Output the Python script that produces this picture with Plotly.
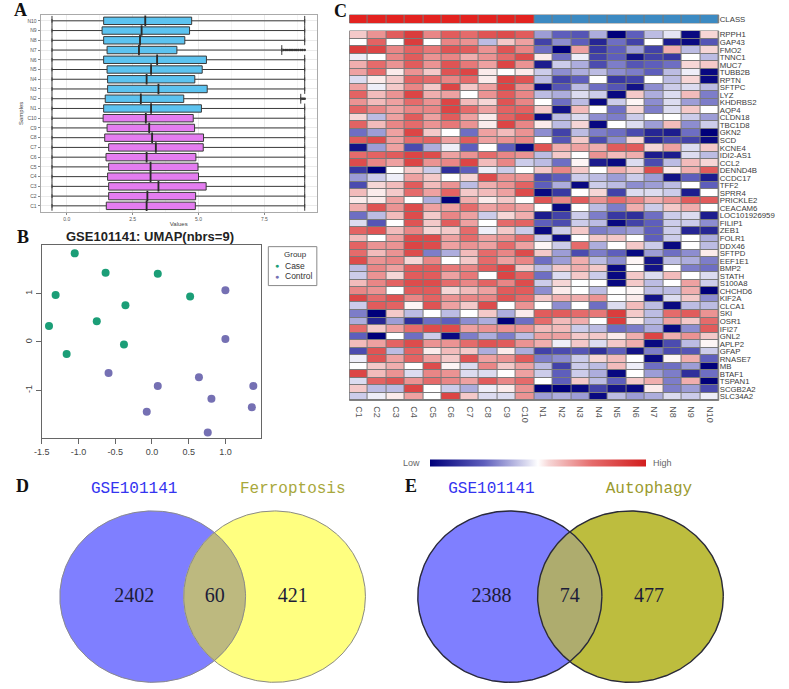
import numpy as np
import plotly.graph_objects as go

W, H = 789, 689

# ---------------- Panel A : boxplots ----------------
samples = ["C1", "C2", "C3", "C4", "C5", "C6", "C7", "C8", "C9", "C10",
           "N1", "N2", "N3", "N4", "N5", "N6", "N7", "N8", "N9", "N10"]
q1 = [1.50, 1.59, 1.59, 1.55, 1.59, 1.49, 1.59, 1.44, 1.53, 1.38,
      1.40, 1.46, 1.55, 1.55, 1.53, 1.40, 1.53, 1.40, 1.34, 1.40]
med = [3.03, 3.06, 3.48, 3.18, 3.18, 3.03, 3.38, 3.24, 3.13, 3.00,
       3.20, 2.81, 3.48, 3.03, 3.20, 3.43, 2.74, 2.78, 2.84, 2.98]
q3 = [4.88, 4.89, 5.29, 5.00, 4.98, 4.90, 5.18, 5.19, 4.85, 4.80,
      5.11, 4.44, 5.33, 4.86, 5.14, 5.30, 4.18, 4.48, 4.66, 4.74]
low_w = [-0.56, -0.56, -0.56, -0.56, -0.56, -0.56, -0.56, -0.56, -0.56, -0.56,
         -0.56, -0.56, -0.56, -0.56, -0.56, -0.56, -0.56, -0.56, -0.56, -0.56]
up_w = [9.03, 9.03, 9.03, 9.03, 9.03, 9.03, 9.03, 9.03, 9.03, 9.03,
        9.03, 8.88, 9.03, 9.03, 9.03, 9.03, 8.16, 9.03, 9.03, 9.03]
out_sample = ["N7", "N7", "N7", "N7", "N7", "N7", "N7", "N7", "N7", "N7", "N7", "N7",
              "N2", "N2", "N2"]
out_value = [8.22, 8.29, 8.36, 8.44, 8.51, 8.58, 8.66, 8.73, 8.80, 8.88, 8.95, 9.03,
             8.93, 8.98, 9.03]

# ---------------- Panel B : UMAP ----------------
case_x = [-1.05, -0.63, 0.08, -1.31, 0.52, -0.36, -0.75, -1.40, -0.38, -1.16]
case_y = [1.83, 1.43, 1.41, 0.97, 0.94, 0.76, 0.43, 0.33, -0.05, -0.25]
ctrl_x = [1.00, 1.00, -0.59, 0.64, 0.08, 1.38, 0.81, -0.07, 1.36, 0.76]
ctrl_y = [1.07, 0.06, -0.64, -0.73, -0.91, -0.91, -1.17, -1.44, -1.35, -1.87]
group_names = ["Case", "Control"]
group_colors = ["#1B9E77", "#7570B3"]

# ---------------- Panel C : heatmap ----------------
genes = ["RPPH1", "GAP43", "FMO2", "TNNC1", "MUC7", "TUBB2B", "RPTN", "SFTPC", "LYZ",
         "KHDRBS2", "AQP4", "CLDN18", "TBC1D8", "GKN2", "SCD", "KCNE4", "IDI2-AS1",
         "CCL2", "DENND4B", "CCDC17", "TFF2", "SPRR4", "PRICKLE2", "CEACAM6",
         "LOC101926959", "FILIP1", "ZEB1", "FOLR1", "DDX46", "SFTPD", "EEF1E1", "BMP2",
         "STATH", "S100A8", "CHCHD6", "KIF2A", "CLCA1", "SKI", "OSR1", "IFI27", "GNL2",
         "APLP2", "GFAP", "RNASE7", "MB", "BTAF1", "TSPAN1", "SCGB2A2", "SLC34A2"]
case_vals = [
    [0.3, 0.7, 1.2, 1.6, 0.8, 1.2, 1.0, 1.3, 1.4, 1.2],
    [0.0, 1.1, 0.0, 1.6, 0.0, 0.8, 0.7, -0.4, 0.3, 0.6],
    [1.6, 1.5, 0.8, 1.1, 0.9, 1.3, 1.2, 0.7, 1.3, 0.8],
    [-0.1, 0.0, 0.8, 1.2, 0.7, 0.8, 0.5, 0.7, 1.0, 1.4],
    [0.5, 1.0, 0.7, 1.2, 0.7, 1.3, 0.9, 0.6, 1.5, 0.7],
    [0.6, 1.0, 0.1, 0.7, 0.3, 1.3, 1.5, 0.1, 0.0, 0.1],
    [-0.2, 0.1, 0.3, 1.1, 1.0, 0.8, 1.0, 0.1, 1.5, 1.3],
    [0.6, -0.1, 0.3, 0.8, 0.3, 1.5, 0.3, 0.6, 1.5, 0.7],
    [1.1, 0.4, 0.7, 1.5, 0.5, 0.6, 0.0, 0.7, 1.2, 0.8],
    [0.7, 0.4, 0.6, 1.0, 0.7, 1.5, 0.4, 0.2, 1.3, 0.8],
    [1.1, 0.8, 0.6, 0.8, 0.8, 1.5, 1.0, 0.6, 1.1, 1.1],
    [0.2, -0.4, 0.6, 1.2, 0.6, 1.2, 0.6, 0.1, 1.1, 1.4],
    [1.1, 0.4, 0.8, 1.0, 0.7, 0.9, 0.7, 0.1, 1.5, 0.8],
    [-0.9, -0.6, 0.6, 1.5, 0.3, 0.0, -0.9, 0.6, 0.4, 0.7],
    [1.2, 1.4, 0.6, 1.0, 1.1, 0.6, 1.2, 0.6, 0.7, 0.8],
    [-1.8, -0.6, 0.6, -1.2, -0.5, -0.1, -1.0, 0.0, -1.0, -1.9],
    [1.0, 1.1, 1.2, 1.5, 1.4, 0.6, 0.7, 1.0, 0.8, 0.7],
    [1.4, 0.8, 0.6, 1.5, 0.7, 0.8, 1.5, 0.4, 0.8, -0.3],
    [-1.4, -2.0, 0.0, 0.3, -0.3, -1.5, -1.0, -0.1, -0.3, 0.0],
    [-0.6, -0.3, -0.1, 0.6, 0.3, 0.0, 0.2, 1.4, 0.7, 0.7],
    [-1.2, 0.2, 0.4, 1.2, 0.4, 0.7, -0.4, 0.5, 0.7, 1.1],
    [0.4, 0.1, 0.3, 1.0, 0.6, 1.1, 0.3, 0.4, 0.6, 1.4],
    [0.1, 0.1, 0.6, 0.0, -0.5, -2.0, 0.5, 0.1, 0.3, 0.0],
    [0.5, 1.3, 0.7, 1.4, 0.6, 0.6, 1.0, 0.6, 0.7, 0.6],
    [-0.9, -0.4, 0.4, 1.4, 0.3, 0.8, 0.6, -0.3, 0.2, 0.5],
    [-0.2, -1.1, 0.0, 1.3, 0.3, 1.2, 0.6, 0.0, 1.0, 1.1],
    [1.1, 1.3, 0.4, 0.8, 0.2, 0.3, 1.0, -0.1, 0.3, -0.3],
    [0.4, 0.0, 0.6, 1.4, 1.4, 0.6, 1.0, 0.6, 0.7, 1.0],
    [1.1, 0.7, 0.7, 1.5, 1.4, 0.6, 0.7, 0.6, 1.0, 0.6],
    [1.0, 0.4, 0.7, 1.4, -0.8, -0.5, 0.4, 1.0, 0.8, 1.4],
    [1.4, 0.7, 0.8, 0.2, 0.8, 0.0, 0.3, 1.0, 0.6, 0.8],
    [-0.4, 0.8, 0.6, 1.2, 1.2, 0.9, 0.8, 1.2, 1.5, 0.3],
    [-0.3, 0.7, 0.2, 1.2, 1.2, 0.6, 0.9, 0.0, 1.5, 1.1],
    [0.4, 0.8, 1.1, 1.4, 1.4, 1.0, 0.8, 1.1, 0.8, 1.4],
    [0.8, 0.7, 0.0, 1.2, 1.2, 0.2, 0.4, 0.6, 1.2, 1.2],
    [1.5, 1.0, 1.3, 0.8, 1.1, 0.7, 0.8, 0.8, 1.3, 1.0],
    [-0.3, 1.2, 1.1, 0.05, 1.3, 0.6, 0.3, 1.4, 0.0, 0.7],
    [-0.8, -2.0, 0.3, -0.4, 0.0, -0.4, 0.0, 0.3, -0.5, 0.1],
    [-0.5, -1.6, -0.6, -1.5, -0.9, -1.0, -0.7, -0.5, -2.0, -0.9],
    [1.0, 0.3, 0.6, 1.0, 1.4, 1.4, 0.6, 0.7, 0.7, 0.7],
    [-1.0, -2.0, 0.0, -0.9, -0.3, -1.9, -0.8, -0.5, -0.8, -0.4],
    [0.4, 0.6, 1.1, 1.4, 0.7, 0.7, 1.0, 1.3, 1.2, 0.7],
    [-1.2, 1.3, -0.4, 1.1, 0.1, 0.4, 0.3, -0.5, 0.1, -0.5],
    [-0.1, 1.3, 0.6, 1.1, 0.6, 0.3, 1.3, 0.6, 0.7, 1.2],
    [0.0, 0.3, 0.5, 0.0, 1.4, 0.05, -0.2, 0.8, 0.3, 0.6],
    [1.5, 0.4, 0.7, -0.2, 0.8, 0.7, -0.2, -0.2, 0.0, 0.6],
    [-0.2, 1.1, 1.3, 0.7, 1.0, 0.8, 0.6, 1.2, 0.8, 1.0],
    [0.3, -0.4, -0.4, 1.5, 0.0, -0.3, -0.5, -0.1, 0.1, 0.7],
    [-0.3, -0.1, 0.1, 0.6, 0.0, 1.5, 0.3, -0.2, -0.2, 0.7],
]
ctrl_vals = [
    [-0.6, -1.0, -1.1, -0.5, -2.0, -1.0, -0.4, -0.15, -1.9, 0.2],
    [-1.3, -0.7, -1.0, -1.6, -0.9, -1.3, 0.0, -1.7, -1.9, -1.1],
    [-0.9, -2.0, 0.6, -1.4, -1.0, -0.6, -1.3, 0.5, -0.4, 0.2],
    [0.1, -0.9, -0.1, -1.3, -1.0, -1.8, -1.3, -1.4, 0.0, -0.4],
    [-1.7, -0.3, -0.5, -1.2, -0.8, -1.1, -1.0, -0.9, 0.2, 0.3],
    [-0.3, -0.7, -0.5, -0.4, -0.7, -0.8, -1.0, -0.4, -0.1, -1.9],
    [-0.4, -1.3, -1.0, 0.0, -1.4, -1.3, 0.0, -0.4, 0.2, -1.9],
    [-1.9, -1.1, -0.4, -0.9, -1.1, -1.8, -0.7, -0.3, -0.2, -0.4],
    [-0.4, -0.5, -0.2, -0.3, -1.9, 0.3, -0.5, -0.2, 0.4, -0.8],
    [0.0, -0.9, -0.4, -1.9, -0.3, 0.05, -0.7, -0.2, -0.6, -0.8],
    [0.3, -1.8, 0.4, 0.0, -0.9, 0.2, -0.8, -0.2, 0.3, 0.0],
    [-1.9, -0.4, -0.2, -0.7, -0.8, -0.3, 0.0, 0.0, -0.3, -0.6],
    [0.1, -0.4, 0.2, -1.9, 0.0, -0.2, -0.6, 0.4, -0.7, -0.3],
    [-0.7, -1.3, -0.4, -0.8, -0.9, -1.2, -1.6, -1.7, -0.9, -2.0],
    [0.0, -1.1, 0.3, -1.2, -0.7, 0.2, -1.6, -1.2, -1.3, -1.9],
    [1.3, 0.5, 0.6, 0.5, 1.2, 1.2, 0.2, 0.6, -0.2, 0.3],
    [-0.4, 0.3, 0.0, 0.7, 0.4, 0.5, -1.7, -1.7, -0.2, -0.4],
    [-0.4, -0.9, 0.05, -1.7, -1.9, -0.2, -1.2, -0.4, 0.4, 0.2],
    [0.3, 0.8, 0.3, 0.0, 0.5, 0.3, 1.4, 0.1, 0.5, 1.2],
    [-1.2, -1.0, -0.3, -0.4, -0.6, -0.3, -0.6, -1.8, -1.0, -1.7],
    [-1.0, -0.5, -1.9, -0.3, -0.4, -0.7, -0.6, -0.4, 0.0, -1.0],
    [-1.9, -1.4, 0.0, 0.2, -1.3, -0.2, -0.2, -0.3, -1.7, 0.0],
    [1.3, 0.8, 1.2, 0.7, 1.0, 0.8, 0.5, 0.7, 1.2, 1.2],
    [0.0, -1.9, 0.0, -0.4, -0.8, 0.5, -0.3, 0.3, 0.5, 0.0],
    [-1.7, -1.3, -0.3, -0.8, -1.4, -1.5, -0.9, -0.3, -0.2, -1.7],
    [-1.0, -1.2, -0.3, -0.4, -1.9, -1.3, -1.0, -0.3, -0.3, -0.7],
    [-1.9, -0.3, 0.3, -0.8, -0.7, -0.6, -1.0, -0.3, -1.6, -1.6],
    [-0.3, -1.9, 0.0, 0.3, 0.3, 0.0, -1.0, -0.3, 0.0, -0.5],
    [0.05, -0.3, 1.0, -0.5, 0.0, 0.3, -0.3, -1.9, 0.0, -0.4],
    [0.3, -0.6, -1.2, -0.8, -1.0, -1.9, -0.6, -0.9, -0.7, 0.1],
    [-0.9, -0.6, 0.5, -0.4, -0.7, 0.05, -1.8, -0.4, -0.5, -0.8],
    [-0.4, 0.3, 0.5, 0.3, -1.9, 0.0, -1.8, 0.0, -0.8, -0.9],
    [-0.9, -0.2, 0.3, -0.3, -1.9, 0.3, -0.2, 0.4, 0.0, -0.2],
    [-0.3, 0.2, 0.0, 0.0, -1.9, 0.3, -0.4, 0.0, 0.6, -0.3],
    [-0.7, 0.1, 0.0, -0.4, 0.0, 0.05, -0.4, -0.4, 0.5, -2.0],
    [0.3, 0.5, 0.5, 0.7, 0.0, 0.1, -1.8, -0.2, 0.3, -0.7],
    [0.0, -0.7, 0.0, -0.9, -0.2, 0.4, -0.4, -1.9, -0.4, -0.4],
    [1.2, 1.2, 1.0, 0.9, 1.6, 0.3, -0.4, 1.0, 1.2, 0.7],
    [1.0, 0.4, 0.5, 0.0, 1.6, 0.1, -0.4, 0.6, 0.3, 1.0],
    [0.4, 0.4, -0.3, -0.4, -0.9, -0.8, -0.5, -1.9, -0.7, 1.2],
    [0.6, 0.6, 0.3, 0.3, 0.1, 0.5, 1.5, 0.5, 0.7, 0.3],
    [0.5, -0.1, 0.3, -0.2, 0.3, 0.5, -1.9, -1.2, -0.4, 0.05],
    [-1.3, -1.2, -1.1, -1.5, -1.0, -1.8, -0.8, -1.2, -1.1, -0.3],
    [-0.8, -0.7, -0.3, 0.2, 0.4, 0.0, -1.9, 0.05, 0.5, -1.0],
    [-0.4, -1.3, -0.3, -0.4, 0.4, -0.1, -0.9, -0.9, -0.6, -2.0],
    [-0.3, -1.0, -0.3, -0.5, -1.9, 0.0, -0.6, -0.8, -1.5, -0.9],
    [0.0, -1.0, 0.3, -0.4, -1.0, 0.3, 0.5, -0.8, 0.5, -2.0],
    [-2.0, -2.0, -1.9, -1.3, -1.8, -1.9, 0.1, -0.8, -0.6, -1.2],
    [-0.6, -0.5, -0.6, -1.9, -0.4, -0.6, -0.5, -0.2, -0.3, -0.1],
]
class_codes = [0, 0, 0, 0, 0, 0, 0, 0, 0, 0, 1, 1, 1, 1, 1, 1, 1, 1, 1, 1]

# ---------------- Panels D/E : Venn counts ----------------
venn_D = {"sets": ["GSE101141", "Ferroptosis"], "counts": [2402, 60, 421]}
venn_E = {"sets": ["GSE101141", "Autophagy"], "counts": [2388, 74, 477]}

# =====================================================================
def px_x(p):
    return p / W


def px_y(p):
    return 1 - p / H


fig = go.Figure()

# ---- A ----
for sl, fill in [(slice(0, 10), "#E47DF0"), (slice(10, 20), "#5CC3F0")]:
    fig.add_trace(go.Box(
        y=samples[sl], q1=q1[sl], median=med[sl], q3=q3[sl],
        lowerfence=low_w[sl], upperfence=up_w[sl], orientation="h",
        fillcolor=fill, line=dict(color="#3a3a3a", width=1), width=0.76,
        boxpoints=False, showlegend=False, xaxis="x", yaxis="y", hoverinfo="skip"))
fig.add_trace(go.Scatter(
    x=low_w + up_w, y=samples + samples, mode="markers", showlegend=False,
    marker=dict(symbol="line-ns", size=7, line=dict(width=1, color="#3a3a3a")),
    xaxis="x", yaxis="y", hoverinfo="skip"))
fig.add_trace(go.Scatter(
    x=med, y=samples, mode="markers", showlegend=False,
    marker=dict(symbol="line-ns", size=7.5, line=dict(width=1.8, color="#2a2a2a")),
    xaxis="x", yaxis="y", hoverinfo="skip"))
fig.add_trace(go.Scatter(
    x=out_value, y=out_sample, mode="markers", showlegend=False,
    marker=dict(symbol="circle", size=2.6, color="#3a3a3a"),
    xaxis="x", yaxis="y", hoverinfo="skip"))

# ---- B ----
for gx, gy, name, col in [(case_x, case_y, group_names[0], group_colors[0]),
                          (ctrl_x, ctrl_y, group_names[1], group_colors[1])]:
    fig.add_trace(go.Scatter(x=gx, y=gy, mode="markers", name=name, showlegend=False,
                             marker=dict(color=col, size=8), xaxis="x2", yaxis="y2"))

# ---- C ----
z = [case_vals[i] + ctrl_vals[i] for i in range(len(genes))]
heat_scale = [[0, "#00007A"], [0.25, "#5E5EBC"], [0.45, "#DCDCF0"], [0.5, "#FFFFFF"],
              [0.55, "#F6D6D6"], [0.75, "#E56B6B"], [1, "#D21E1E"]]
fig.add_trace(go.Heatmap(
    z=z, x=samples, y=list(range(len(genes))), zmin=-2, zmax=2,
    colorscale=heat_scale,
    xgap=1, ygap=1, xaxis="x3", yaxis="y3", hoverinfo="skip",
    colorbar=dict(orientation="h", x=535 / W, xanchor="center", y=px_y(463.5),
                  yanchor="middle", len=216, lenmode="pixels", thickness=7,
                  thicknessmode="pixels", showticklabels=False, ticks="",
                  outlinewidth=0, xpad=0, ypad=0)))
fig.add_trace(go.Heatmap(
    z=[class_codes], x=samples, y=[0], zmin=0, zmax=1, showscale=False,
    colorscale=[[0, "#E3221F"], [0.5, "#E3221F"], [0.5, "#3C8AC2"], [1, "#3C8AC2"]],
    xgap=1, ygap=0, xaxis="x4", yaxis="y4", hoverinfo="skip"))


# ---- D / E : Venn ----
def ell(cx, cy, rx, ry, n=361):
    t = np.linspace(0, 2 * np.pi, n)
    return cx + rx * np.cos(t), cy + ry * np.sin(t)


def lens(e1, e2, n=1440):
    pts = []
    for a, b in [(e1, e2), (e2, e1)]:
        x, y = ell(*a, n=n)
        inside = ((x - b[0]) / b[2]) ** 2 + ((y - b[1]) / b[3]) ** 2 <= 1
        pts += list(zip(x[inside], y[inside]))
    pts = np.array(pts)
    c = pts.mean(axis=0)
    order = np.argsort(np.arctan2(pts[:, 1] - c[1], pts[:, 0] - c[0]))
    xs, ys = pts[order, 0], pts[order, 1]
    return np.append(xs, xs[0]), np.append(ys, ys[0])


venn_layout = [
    (venn_D, (146.2, 597.5, 93.8, 85.8), (269.3, 597.5, 91.8, 85.8),
     ("#7F7FFF", "#FFFF80", "#BDB97F"), "#8a8a8a", 1.0, "#A8A83C"),
    (venn_E, (507.0, 597.5, 93.0, 85.8), (628.8, 597.5, 93.8, 85.8),
     ("#7F7FFF", "#BDBD3E", "#AEAC6E"), "#2a2a3a", 1.4, "#9A9A2E"),
]
for venn, e1, e2, cols, lc, lw, c2 in venn_layout:
    for e, col in [(e1, cols[0]), (e2, cols[1])]:
        x, y = ell(*e)
        fig.add_trace(go.Scatter(x=x, y=y, fill="toself", fillcolor=col, mode="lines",
                                 line=dict(color=col, width=0.5), showlegend=False,
                                 xaxis="x5", yaxis="y5", hoverinfo="skip"))
    lx, ly = lens(e1, e2)
    fig.add_trace(go.Scatter(x=lx, y=ly, fill="toself", fillcolor=cols[2], mode="lines",
                             line=dict(color=cols[2], width=0.5), showlegend=False,
                             xaxis="x5", yaxis="y5", hoverinfo="skip"))
    for e in (e1, e2):
        x, y = ell(*e)
        fig.add_trace(go.Scatter(x=x, y=y, mode="lines", line=dict(color=lc, width=lw),
                                 showlegend=False, xaxis="x5", yaxis="y5", hoverinfo="skip"))
    lens_mid = (e1[0] + e1[2] + e2[0] - e2[2]) / 2
    tx = [e1[0] - 0.2 * e1[2], lens_mid, e2[0] + 0.2 * e2[2]]
    fig.add_trace(go.Scatter(x=tx, y=[e1[1]] * 3, mode="text",
                             text=[str(c) for c in venn["counts"]],
                             textfont=dict(family="Liberation Serif", size=20, color="#1c1c38"),
                             showlegend=False, xaxis="x5", yaxis="y5", hoverinfo="skip"))
    fig.add_trace(go.Scatter(x=[tx[0], tx[2]], y=[490, 490], mode="text",
                             text=venn["sets"],
                             textfont=dict(family="Liberation Mono", size=16, color=["#3434F0", c2]),
                             showlegend=False, xaxis="x5", yaxis="y5", hoverinfo="skip"))

# ---------------- layout ----------------
small = dict(family="Liberation Sans", size=5, color="#555555")
fig.update_layout(
    width=W, height=H, margin=dict(l=0, r=0, t=0, b=0),
    paper_bgcolor="white", plot_bgcolor="white", showlegend=False,
    font=dict(family="Liberation Sans", color="#333333"),
    xaxis=dict(domain=[px_x(33), px_x(312)], range=[-0.99, 9.49], anchor="y",
               tickvals=[0, 2.5, 5, 7.5], ticktext=["0.0", "2.5", "5.0", "7.5"],
               showgrid=True, gridcolor="#EBEBEB", gridwidth=0.8,
               minor=dict(tickvals=[1.25, 3.75, 6.25, 8.75], showgrid=True,
                          gridcolor="#F4F4F4", gridwidth=0.5),
               zeroline=False, showline=True, mirror=True, linecolor="#AAAAAA", linewidth=1,
               ticks="outside", ticklen=2, tickcolor="#888", tickfont=small,
               title=dict(text="Values", font=dict(size=6, color="#444"), standoff=1)),
    yaxis=dict(domain=[px_y(212), px_y(15)], anchor="x", type="category",
               categoryorder="array", categoryarray=samples, range=[-0.6, 19.6],
               showgrid=True, gridcolor="#EBEBEB", gridwidth=0.8, zeroline=False,
               showline=True, mirror=True, linecolor="#AAAAAA", linewidth=1,
               ticks="outside", ticklen=2, tickcolor="#888", tickfont=small,
               title=dict(text="Samples", font=dict(size=6, color="#444"), standoff=3)),
    xaxis2=dict(domain=[px_x(34), px_x(256)], range=[-1.5, 1.49], anchor="y2",
                tickvals=[-1.5, -1, -0.5, 0, 0.5, 1],
                ticktext=["-1.5", "-1.0", "-0.5", "0.0", "0.5", "1.0"],
                showgrid=False, zeroline=False, showline=True, mirror=True,
                linecolor="#666666", linewidth=1, ticks="outside", ticklen=5,
                tickcolor="#666", tickfont=dict(size=9, color="#444")),
    yaxis2=dict(domain=[px_y(439), px_y(245)], range=[-1.99, 2.01], anchor="x2",
                tickvals=[-1, 0, 1], ticktext=["-1", "0", "1"], tickangle=-90,
                showgrid=False, zeroline=False, showline=True, mirror=True,
                linecolor="#666666", linewidth=1, ticks="outside", ticklen=5,
                tickcolor="#666", tickfont=dict(size=9, color="#444")),
    xaxis3=dict(domain=[px_x(345), px_x(718)], anchor="y3", type="category",
                tickangle=90, showgrid=False, zeroline=False, ticks="outside",
                ticklen=3, tickcolor="white",
                tickfont=dict(size=9, color="#555")),
    yaxis3=dict(domain=[px_y(401), px_y(31)], anchor="x3", side="right",
                range=[len(genes) - 0.5, -0.5], tickvals=list(range(len(genes))),
                ticktext=genes, showgrid=False, zeroline=False, ticks="",
                tickfont=dict(size=7.8, color="#3a3a3a")),
    xaxis4=dict(domain=[px_x(345), px_x(718)], anchor="y4", type="category",
                showticklabels=False, showgrid=False, zeroline=False, ticks=""),
    yaxis4=dict(domain=[px_y(23), px_y(15)], anchor="x4", side="right",
                range=[-0.5, 0.5], tickvals=[0], ticktext=["CLASS"],
                showgrid=False, zeroline=False, ticks="",
                tickfont=dict(size=7.8, color="#3a3a3a")),
    xaxis5=dict(domain=[0, 1], range=[0, W], anchor="y5", visible=False),
    yaxis5=dict(domain=[0, px_y(470)], range=[H, 470], anchor="x5", visible=False),
)

# gray cell borders for the heatmaps
for xr, yr in [("x3", "y3"), ("x4", "y4")]:
    fig.add_shape(type="rect", xref=f"{xr} domain", yref=f"{yr} domain", x0=0, x1=1,
                  y0=0, y1=1, fillcolor="#7a7a7a", line=dict(color="#7a7a7a", width=1),
                  layer="below")

# legend box for panel B (drawn by hand to match R's small legend)
fig.add_shape(type="rect", xref="paper", yref="paper", x0=px_x(263), x1=px_x(312),
              y0=px_y(286), y1=px_y(247), line=dict(color="#888888", width=1),
              fillcolor="white")

ann = []
for letter, xp, yp in [("A", 13, 10), ("B", 15, 237), ("C", 336, 11), ("D", 15, 487), ("E", 407, 487)]:
    ann.append(dict(text=f"<b>{letter}</b>", x=px_x(xp), y=px_y(yp), xref="paper", yref="paper",
                    showarrow=False, xanchor="center", yanchor="middle",
                    font=dict(family="Liberation Serif", size=18, color="#111")))
ann.append(dict(text="<b>GSE101141: UMAP(nbrs=9)</b>", x=px_x(143), y=px_y(237), xref="paper",
                yref="paper", showarrow=False, xanchor="center", yanchor="middle",
                font=dict(family="Liberation Sans", size=13, color="#222")))
ann.append(dict(text="Group", x=px_x(290), y=px_y(254.5), xref="paper", yref="paper",
                showarrow=False, xanchor="center", yanchor="middle",
                font=dict(size=8, color="#333")))
for k, (name, col) in enumerate(zip(group_names, group_colors)):
    yy = px_y(266 + 10.5 * k)
    ann.append(dict(text="●", x=px_x(272), y=yy, xref="paper", yref="paper",
                    showarrow=False, xanchor="center", yanchor="middle",
                    font=dict(size=7, color=col)))
    ann.append(dict(text=name, x=px_x(278), y=yy, xref="paper", yref="paper",
                    showarrow=False, xanchor="left", yanchor="middle",
                    font=dict(size=8.5, color="#333")))
ann.append(dict(text="Low", x=px_x(408), y=px_y(463.5), xref="paper", yref="paper",
                showarrow=False, xanchor="center", yanchor="middle",
                font=dict(size=9, color="#666")))
ann.append(dict(text="High", x=px_x(661), y=px_y(463.5), xref="paper", yref="paper",
                showarrow=False, xanchor="center", yanchor="middle",
                font=dict(size=9, color="#666")))
fig.update_layout(annotations=ann)

fig.write_html("out.html")
